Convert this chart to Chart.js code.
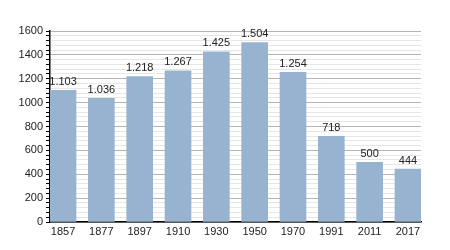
<!DOCTYPE html>
<html>
<head>
<meta charset="utf-8">
<script src="https://cdn.jsdelivr.net/npm/chart.js@4/dist/chart.umd.min.js"></script>
<style>
  html, body { margin: 0; padding: 0; background: #fff; }
</style>
</head>
<body>
<canvas id="popChart" width="450" height="250"></canvas>
<script>
const years = ['1857', '1877', '1897', '1910', '1930', '1950', '1970', '1991', '2011', '2017'];
const population = [1103, 1036, 1218, 1267, 1425, 1504, 1254, 718, 500, 444];

// German style thousands separator
function fmt(v) {
    return String(v).replace(/\B(?=(\d{3})+(?!\d))/g, '.');
}

const valueLabels = {
    id: 'valueLabels',
    afterDatasetsDraw(chart) {
        const c = chart.ctx;
        const meta = chart.getDatasetMeta(0);
        c.save();
        c.font = '11px "Liberation Sans", Arial, sans-serif';
        c.fillStyle = '#222';
        c.textAlign = 'center';
        c.textBaseline = 'bottom';
        meta.data.forEach(function(bar, i) {
            c.fillText(fmt(population[i]), bar.x, bar.y - 3);
        });
        c.restore();
    }
};

const ctx = document.getElementById('popChart').getContext('2d');
new Chart(ctx, {
    type: 'bar',
    data: {
        datasets: [{
            data: population.map(function(v, i) { return { x: i, y: v }; }),
            backgroundColor: '#98b3d0',
            borderWidth: 0,
            barThickness: 26
        }]
    },
    options: {
        responsive: false,
        animation: false,
        layout: { padding: { top: 31, right: 29, left: 0, bottom: 0 } },
        plugins: { legend: { display: false }, tooltip: { enabled: false } },
        scales: {
            x: {
                type: 'linear',
                offset: false,
                min: -0.34,
                max: 9.34,
                afterBuildTicks: function(scale) {
                    scale.ticks = years.map(function(y, i) { return { value: i }; });
                },
                afterFit: function(scale) { scale.height = 28; },
                grid: { display: false, drawTicks: false },
                border: { display: true, color: '#000', width: 1.5 },
                ticks: {
                    color: '#222',
                    font: { family: '"Liberation Sans", Arial, sans-serif', size: 11 },
                    padding: 3,
                    maxRotation: 0,
                    autoSkip: false,
                    callback: function(v) { return years[v]; }
                }
            },
            y: {
                min: 0,
                max: 1600,
                afterFit: function(scale) { scale.width = 50; },
                border: { display: true, color: '#000', width: 1.5 },
                grid: {
                    color: function(c) { return c.tick.value % 200 === 0 ? '#b4b4b4' : '#e6e6e6'; },
                    tickColor: '#000',
                    tickLength: 4
                },
                ticks: {
                    stepSize: 40,
                    autoSkip: false,
                    color: '#222',
                    padding: 3,
                    font: { family: '"Liberation Sans", Arial, sans-serif', size: 11 },
                    callback: function(v) { return v % 200 === 0 ? v : ''; }
                }
            }
        }
    },
    plugins: [valueLabels]
});
</script>
</body>
</html>
